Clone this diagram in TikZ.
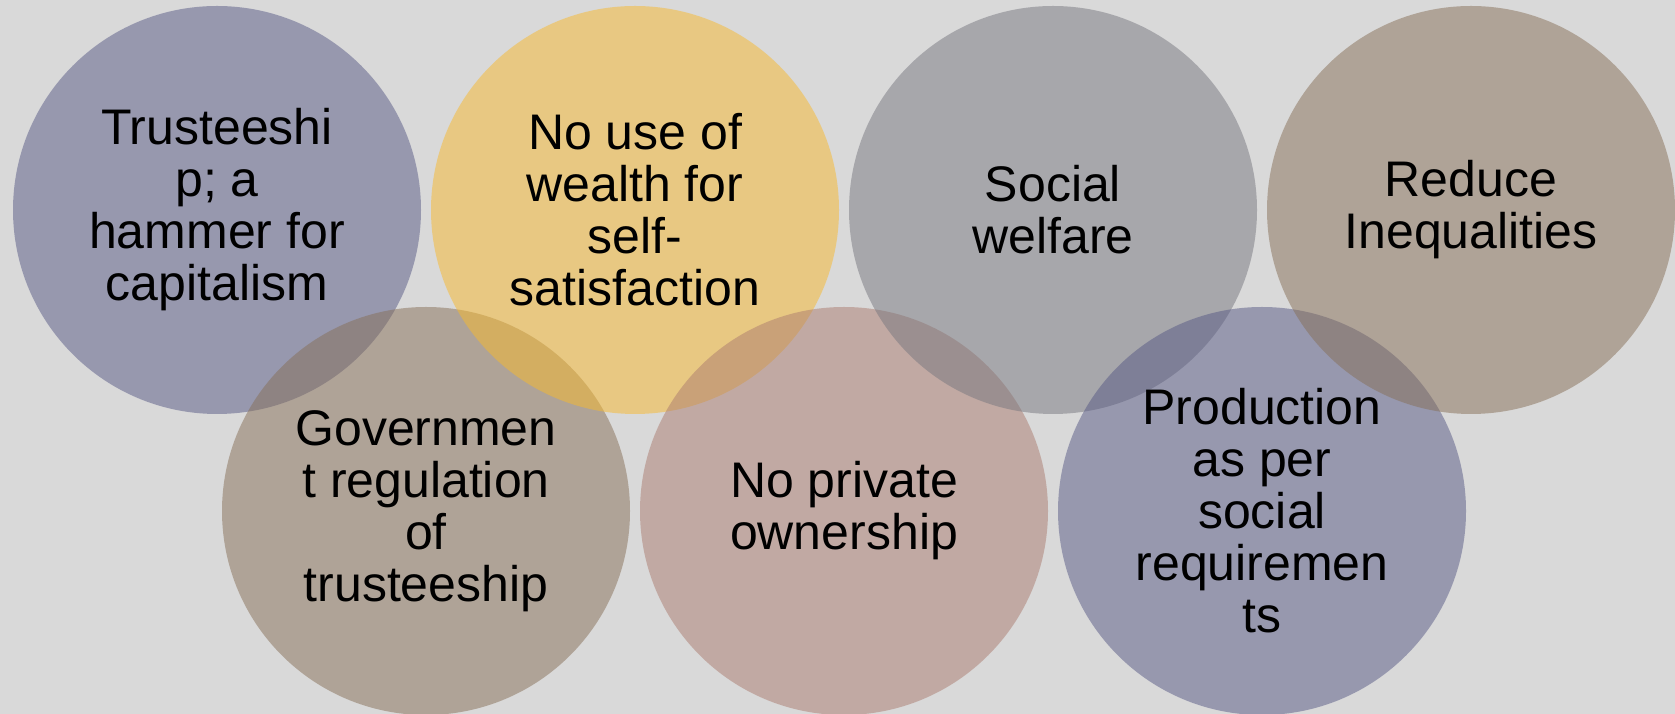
\documentclass[tikz,border=0pt]{standalone}
\usepackage{fontspec}
\setmainfont{Liberation Sans}
\definecolor{bgc}{HTML}{D9D9D9}
\definecolor{cnavy}{HTML}{575985}
\definecolor{cgold}{HTML}{F7B92D}
\definecolor{cgrey}{HTML}{77777F}
\definecolor{cbrown}{HTML}{876F57}
\definecolor{crose}{HTML}{AB7B6F}
\begin{document}
\begin{tikzpicture}[x=1pt,y=1pt,
  bubble/.style={circle, minimum size=408pt, inner sep=0pt, draw=none, fill opacity=0.5},
  label/.style={align=center, text=black, inner sep=0pt,
    font=\fontsize{50}{52}\selectfont}]
  % canvas
  \fill[bgc] (0,0) rectangle (1675,714);
  \useasboundingbox (0,0) rectangle (1675,714);
  % bubbles, alternating top and bottom row so each overlaps the previous one
  \node[bubble, fill=cnavy]  (b1) at (217,504) {};
  \node[bubble, fill=cbrown] (b5) at (426,203) {};
  \node[bubble, fill=cgold]  (b2) at (635,504) {};
  \node[bubble, fill=crose]  (b6) at (844,203) {};
  \node[bubble, fill=cgrey]  (b3) at (1053,504) {};
  \node[bubble, fill=cnavy]  (b7) at (1262,203) {};
  \node[bubble, fill=cbrown] (b4) at (1471,504) {};
  % texts
  \node[label] (t1) at (b1.center) {Trusteeshi\\p; a\\hammer for\\capitalism};
  \node[label] (t2) at (b2.center) {No use of\\wealth for\\self-\\satisfaction};
  \node[label] (t3) at (b3.center) {Social\\welfare};
  \node[label] (t4) at (b4.center) {Reduce\\Inequalities};
  \node[label] (t5) at (b5.center) {Governmen\\t regulation\\of\\trusteeship};
  \node[label] (t6) at (b6.center) {No private\\ownership};
  \node[label] (t7) at (b7.center) {Production\\as per\\social\\requiremen\\ts};
\end{tikzpicture}
\end{document}
